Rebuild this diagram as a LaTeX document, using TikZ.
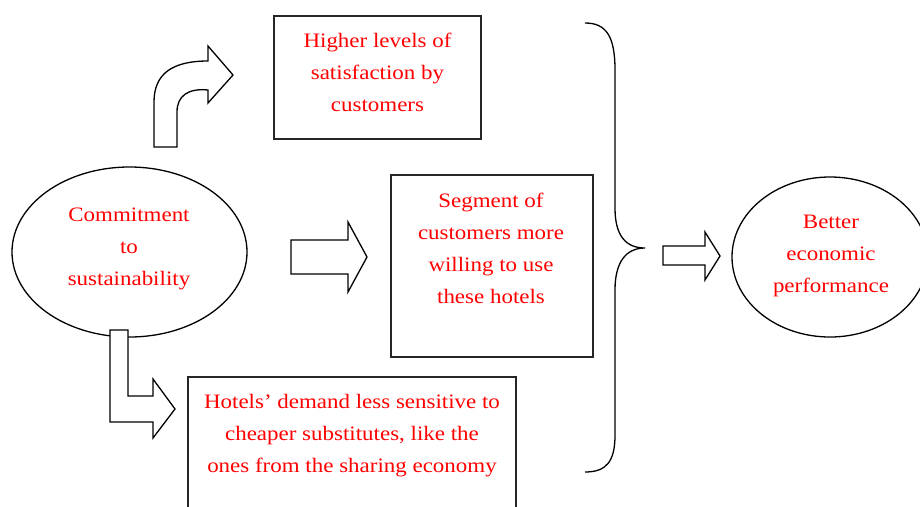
\documentclass[tikz,border=0pt]{standalone}
\usepackage{fontspec}
\setmainfont{Liberation Serif}[FakeStretch=1.12]
\usetikzlibrary{shapes.geometric}
\definecolor{txtred}{RGB}{255,0,0}
\begin{document}
\begin{tikzpicture}[x=1pt,y=-1pt,
  boxshape/.style={draw=black!85,line width=1.4pt,rectangle,inner sep=0pt},
  ovalshape/.style={draw=black,line width=1.3pt,ellipse,inner sep=0pt},
  txt/.style={text=txtred,align=center,inner sep=0pt,font=\fontsize{20.5}{32}\selectfont},
  blockarrow/.style={draw=black,line width=1.3pt,fill=white,line join=miter}]
\useasboundingbox (0,0) rectangle (920,506);

% boxes and ovals
\node[boxshape,minimum width=207pt,minimum height=123pt] (sat) at (377.5,77.5) {};
\node[boxshape,minimum width=202pt,minimum height=182pt] (seg) at (492,266) {};
\node[boxshape,minimum width=328pt,minimum height=160pt] (dem) at (352,457) {};
\node[ovalshape,minimum width=235pt,minimum height=170pt] (com) at (129.5,252) {};
\node[ovalshape,minimum width=196pt,minimum height=160pt] (perf) at (830,257) {};

% labels
\node[txt] (satT) at (377.5,72) {Higher levels of\\satisfaction by\\customers};
\node[txt] (segT) at (491,248) {Segment of\\customers more\\willing to use\\these hotels};
\node[txt] (demT) at (352,435.5) {Hotels’ demand less sensitive to\\cheaper substitutes, like the\\ones from the sharing economy};
\node[txt] (comT) at (129,249) {Commitment\\to\\sustainability};
\node[txt] (perfT) at (831,256) {Better\\economic\\performance};

% curved block arrow up to the top box
\draw[blockarrow] (154,147) -- (154,102)
  .. controls (154,74) and (172,61) .. (208,61) -- (208,46) -- (233,75)
  -- (208,103) -- (208,90)
  .. controls (188,88) and (177,96) .. (177,112) -- (177,147) -- cycle;

% straight block arrow to the middle box
\draw[blockarrow] (291,240) -- (348,240) -- (348,222) -- (367,257)
  -- (348,292) -- (348,274) -- (291,274) -- cycle;

% bent block arrow down to the bottom box
\draw[blockarrow] (110,330) -- (128,330) -- (128,396) -- (153,396) -- (153,379)
  -- (175,409) -- (153,438) -- (153,422) -- (110,422) -- cycle;

% brace gathering the three effects
\draw[line width=1.3pt] (585,23) .. controls (606,23) and (615,36) .. (615,70)
  -- (615,208) .. controls (615,236) and (626,248) .. (645,248)
  .. controls (626,248) and (615,262) .. (615,290)
  -- (615,435) .. controls (615,462) and (606,472) .. (585,472);

% block arrow to the outcome
\draw[blockarrow] (663,246) -- (705,246) -- (705,232) -- (720,256)
  -- (705,280) -- (705,265) -- (663,265) -- cycle;
\end{tikzpicture}
\end{document}
